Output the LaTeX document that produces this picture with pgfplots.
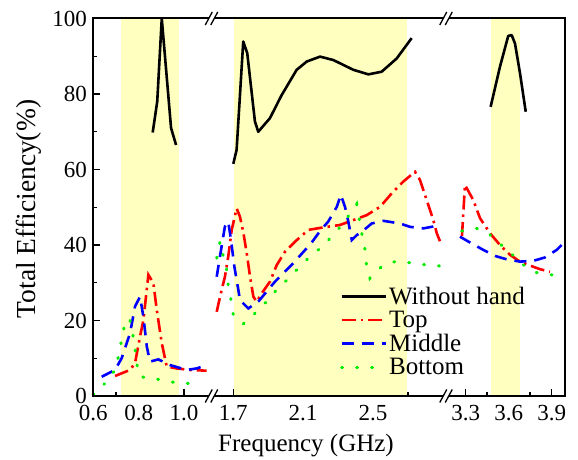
\documentclass[border=0pt]{standalone}
\usepackage{fontspec}
\setmainfont{Liberation Serif}
\usepackage{pgfplots}
\pgfplotsset{compat=1.18}
\definecolor{bandyellow}{RGB}{255,255,192}
\definecolor{myred}{RGB}{255,0,0}
\definecolor{myblue}{RGB}{0,0,255}
\definecolor{mygreen}{RGB}{0,235,0}
\tikzset{
  sblack/.style={black, line width=2.6pt, line join=round},
  sred/.style={myred, line width=2.6pt, dash pattern=on 14pt off 5pt on 2.5pt off 5pt},
  sblue/.style={myblue, line width=2.6pt, dash pattern=on 12pt off 8pt},
  sgreen/.style={mygreen, line width=3pt, line cap=round, dash pattern=on 1pt off 14pt},
}
\pgfplotsset{
  segax/.style={
    scale only axis, height=377.5pt, ymin=0, ymax=100,
    separate axis lines, axis line style={draw=none},
    tick align=inside, xtick pos=left, ytick pos=left,
    major tick length=7pt, minor tick length=4pt,
    every tick/.style={black, line width=1.4pt},
    tick label style={font=\fontsize{23}{27}\selectfont},
    xticklabel style={yshift=-6pt},
    yticklabel style={xshift=-3pt},
    clip=false, anchor=south west,
  },
}
\begin{document}
\begin{tikzpicture}
\useasboundingbox (0,0) rectangle (578pt,460pt);
% ---------- segment 1 ----------
\begin{axis}[segax, at={(93.3pt,64pt)}, width=118.7pt,
  xmin=0.6, xmax=1.1236,
  xtick={0.6,0.8,1.0}, xticklabels={0.6,0.8,1.0}, minor xtick={0.7,0.9},
  ytick={0,20,40,60,80,100}, yticklabels={0,20,40,60,80,100},
  minor ytick={10,30,50,70,90}]
\addplot[draw=none, fill=bandyellow, forget plot] coordinates {(0.72,100) (0.98,100)} \closedcycle;
\addplot[sblack] coordinates {(0.862,69.8) (0.882,78.0) (0.902,100) (0.943,71.0) (0.965,66.5)};
\addplot[sred] coordinates {(0.696,5.3) (0.762,6.9) (0.784,8.7) (0.806,15.7) (0.821,20.1) (0.843,32.1) (0.865,29.9) (0.880,22.8) (0.902,14.0) (0.924,7.8) (0.968,7.3) (1.027,6.9) (1.100,6.7)};
\addplot[sblue] coordinates {(0.637,5.1) (0.696,6.9) (0.725,10.0) (0.762,16.6) (0.784,23.7) (0.806,26.3) (0.821,21.0) (0.836,13.1) (0.850,9.1) (0.887,9.7) (0.938,8.2) (1.012,6.9) (1.056,7.3) (1.100,8.2)};
\addplot[sgreen] coordinates {(0.600,0.3) (0.652,3.4) (0.696,6.9) (0.718,12.2) (0.725,15.3) (0.740,19.3) (0.759,20.6) (0.769,18.4) (0.784,12.6) (0.791,8.7) (0.806,5.1) (0.865,4.7) (0.931,3.8) (0.997,3.4) (1.071,3.2)};
\end{axis}
% ---------- segment 3 ----------
\begin{axis}[segax, at={(445pt,64pt)}, width=120pt,
  xmin=3.1556, xmax=3.993,
  xtick={3.3,3.6,3.9}, xticklabels={3.3,3.6,3.9}, minor xtick={3.45,3.75},
  ytick=\empty]
\addplot[draw=none, fill=bandyellow, forget plot] coordinates {(3.48,100) (3.68,100)} \closedcycle;
\addplot[sblack] coordinates {(3.474,76.6) (3.539,87.2) (3.597,95.4) (3.621,95.6) (3.644,93.4) (3.679,85.5) (3.719,75.3)};
\addplot[sred] coordinates {(3.274,42.4) (3.295,55.9) (3.353,51.9) (3.400,47.1) (3.470,43.1) (3.539,40.0) (3.609,37.4) (3.679,35.6) (3.737,34.7) (3.818,33.6) (3.888,32.9)};
\addplot[sblue] coordinates {(3.260,42.2) (3.342,40.4) (3.423,38.7) (3.505,37.1) (3.586,36.2) (3.679,35.6) (3.772,35.8) (3.853,36.7) (3.935,38.7) (3.993,40.9)};
\addplot[sgreen] coordinates {(3.272,43.7) (3.377,44.4) (3.458,43.1) (3.539,40.3) (3.621,37.6) (3.691,35.0) (3.795,32.7) (3.900,32.1) (3.993,33.4)};
\end{axis}
% ---------- segment 2 (with legend, drawn last) ----------
\begin{axis}[segax, at={(212pt,64pt)}, width=233pt,
  xmin=1.578, xmax=2.913,
  xtick={1.7,2.1,2.5}, xticklabels={1.7,2.1,2.5}, minor xtick={1.9,2.3,2.7},
  ytick=\empty,
  legend style={at={(0.536,0.300)}, anchor=north west, draw=none, fill=none,
    font=\fontsize{25}{28}\selectfont, row sep=1.2pt,
    nodes={inner sep=2pt}},
  legend cell align=left,
  legend image code/.code={\draw[#1] (0pt,0pt) -- (44pt,0pt);}]
\addplot[draw=none, fill=bandyellow, forget plot] coordinates {(1.706,100) (2.694,100)} \closedcycle;
\addplot[sblack] coordinates {(1.700,61.5) (1.719,65.2) (1.757,93.9) (1.780,90.8) (1.824,72.7) (1.843,70.0) (1.910,73.6) (1.977,79.7) (2.063,86.4) (2.121,88.6) (2.197,89.9) (2.273,89.0) (2.388,86.4) (2.474,85.2) (2.550,85.9) (2.636,89.4) (2.722,94.8)};
\addlegendentry{Without hand}
\addplot[sred] coordinates {(1.605,22.3) (1.624,26.3) (1.652,31.6) (1.671,36.9) (1.691,44.0) (1.719,49.7) (1.738,47.5) (1.757,43.5) (1.777,37.8) (1.796,31.6) (1.815,26.3) (1.834,25.0) (1.863,27.2) (1.910,30.3) (1.949,34.7) (1.996,38.2) (2.054,40.9) (2.130,44.0) (2.207,44.6) (2.311,45.3) (2.388,46.6) (2.464,47.9) (2.541,50.1) (2.608,53.7) (2.674,56.8) (2.741,59.4) (2.770,57.2) (2.808,51.9) (2.846,46.6) (2.866,43.1) (2.885,40.9)};
\addlegendentry{Top}
\addplot[sblue] coordinates {(1.605,31.6) (1.633,39.6) (1.652,44.9) (1.671,46.2) (1.687,41.3) (1.706,34.3) (1.729,28.1) (1.738,25.4) (1.786,23.2) (1.843,25.0) (1.939,30.3) (2.044,35.2) (2.145,40.4) (2.202,44.0) (2.244,46.2) (2.293,50.1) (2.316,53.3) (2.340,50.1) (2.359,46.2) (2.379,41.3) (2.407,42.6) (2.436,43.5) (2.493,45.7) (2.560,46.4) (2.655,45.7) (2.713,44.8) (2.789,44.4) (2.846,44.9)};
\addlegendentry{Middle}
\addplot[sgreen] coordinates {(1.605,36.5) (1.624,40.9) (1.643,36.9) (1.662,33.4) (1.671,29.4) (1.687,25.4) (1.700,21.5) (1.757,19.1) (1.815,21.5) (1.882,24.6) (1.939,27.6) (2.006,30.7) (2.063,33.4) (2.130,36.5) (2.197,39.1) (2.264,42.2) (2.322,45.3) (2.371,48.4) (2.407,50.8) (2.436,43.1) (2.455,38.7) (2.464,34.3) (2.483,31.2) (2.550,34.3) (2.626,35.6) (2.713,35.3) (2.808,34.7) (2.894,34.4)};
\addlegendentry{Bottom}
\end{axis}
% ---------- frame with axis breaks ----------
\begin{scope}[line width=2pt, line cap=butt]
\draw (93.3pt,64pt) -- (93.3pt,441.5pt);
\draw (565pt,64pt) -- (565pt,441.5pt);
\foreach \yy in {64,441.5}{
  \draw (92.3pt,\yy pt) -- (208.75pt,\yy pt);
  \draw (214.25pt,\yy pt) -- (443.25pt,\yy pt);
  \draw (448.75pt,\yy pt) -- (566pt,\yy pt);
}
\end{scope}
\begin{scope}[line width=1.3pt]
\foreach \xc in {211.5,446}{
  \foreach \yy in {64,441.5}{
    \draw (\xc pt-2.75pt-3.5pt,\yy pt-6.5pt) -- (\xc pt-2.75pt+3.5pt,\yy pt+6.5pt);
    \draw (\xc pt+2.75pt-3.5pt,\yy pt-6.5pt) -- (\xc pt+2.75pt+3.5pt,\yy pt+6.5pt);
  }
}
\end{scope}
% ---------- axis titles ----------
\node[font=\fontsize{25}{28}\selectfont] at (306pt,14pt) {Frequency (GHz)};
\node[font=\fontsize{27.5}{30}\selectfont, rotate=90] at (29pt,251pt) {Total Efficiency(\%)};
\end{tikzpicture}
\end{document}
